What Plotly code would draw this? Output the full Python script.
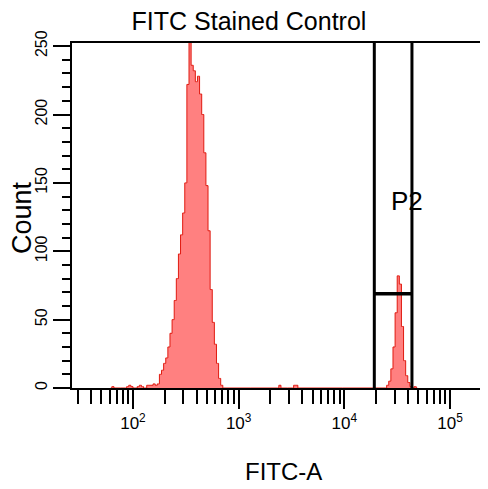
import plotly.graph_objects as go

# ---------------- data (log10 FITC-A bin centres, counts) ----------------
bin_width = 0.02

main_log = [2.24, 2.26, 2.28, 2.30, 2.32, 2.34, 2.36, 2.38, 2.40, 2.42, 2.44,
            2.46, 2.48, 2.50, 2.52, 2.54, 2.56, 2.58, 2.60, 2.62, 2.64, 2.66,
            2.68, 2.70, 2.72, 2.74, 2.76, 2.78, 2.80, 2.82, 2.84]
main_cnt = [3, 10, 13, 18, 22, 30, 40, 50, 64, 80, 98,
            112, 128, 150, 222, 255, 236, 232, 224, 228, 215, 200,
            172, 148, 115, 72, 48, 32, 18, 7, 2]

gate_peak_log = [4.41, 4.43, 4.45, 4.47, 4.49, 4.51, 4.53, 4.55, 4.57, 4.59, 4.61, 4.63, 4.67]
gate_peak_cnt = [2, 5, 14, 30, 55, 82, 76, 45, 20, 9, 4, 1, 1]

sparse_log = [1.81, 1.95, 1.97, 1.99, 2.05, 2.07, 2.09, 2.14, 2.16, 2.18, 2.20, 2.22, 3.39, 3.53, 3.55]
sparse_cnt = [1, 1, 2, 1, 1, 2, 1, 2, 2, 2, 3, 2, 2, 2, 2]

gate_name = "P2"
gate_fitc = [19200, 43600]     # P2 lower / upper bounds
gate_level = 69                # P2 horizontal marker (count)

x_range_log = [1.423, 5.359]
y_range = [0, 252.3]

x_tick_vals = [100, 1000, 10000, 100000]
x_tick_text = ["10<sup>2</sup>", "10<sup>3</sup>", "10<sup>4</sup>", "10<sup>5</sup>"]
y_tick_vals = [0, 50, 100, 150, 200, 250]

# ---------------- build step outline ----------------
pts = sorted(zip(main_log + gate_peak_log + sparse_log, main_cnt + gate_peak_cnt + sparse_cnt))
xs, ys = [], []
for i, (l, c) in enumerate(pts):
    if i == 0 or abs(pts[i - 1][0] - (l - bin_width)) > 1e-6:
        xs.append(l - bin_width); ys.append(0)
    xs.append(l); ys.append(c)
    if i == len(pts) - 1 or abs(pts[i + 1][0] - (l + bin_width)) > 1e-6:
        xs.append(l + bin_width); ys.append(0)
xv = [10 ** v for v in xs]

FONT = "Liberation Sans, Arial, sans-serif"

# page has an 8px body margin; figure is sized so it ends at the window edge
W, H = 480, 481

fig = go.Figure()
fig.add_trace(go.Scatter(x=xv, y=ys, mode="lines", line=dict(color="#e01a10", width=1, shape="hvh"),
                         fill="tozeroy", fillcolor="#ff8080", hoverinfo="skip", showlegend=False))

# gate lines
for g in gate_fitc:
    fig.add_trace(go.Scatter(x=[g, g], y=[y_range[0], y_range[1]], mode="lines",
                             line=dict(color="black", width=3), showlegend=False, hoverinfo="skip"))
fig.add_trace(go.Scatter(x=gate_fitc, y=[gate_level, gate_level], mode="lines",
                         line=dict(color="black", width=3.5), showlegend=False, hoverinfo="skip"))

minor_vals = [m * 10 ** d for d in range(1, 6) for m in range(2, 10)]

fig.update_layout(
    width=W, height=H,
    margin=dict(l=64, r=0, t=35, b=101, autoexpand=False),
    paper_bgcolor="white", plot_bgcolor="white",
    font=dict(family=FONT, color="black"),
    title=dict(text="FITC Stained Control", x=241 / W, xref="container", xanchor="center",
               y=1 - 13 / H, yref="container", yanchor="middle",
               font=dict(size=25, family=FONT, color="black")),
    xaxis=dict(type="log", range=x_range_log, showgrid=False, zeroline=False,
               showline=True, linecolor="black", linewidth=2, mirror=True,
               ticks="outside", ticklen=19, tickwidth=2, tickcolor="black",
               tickvals=x_tick_vals, ticktext=x_tick_text,
               tickfont=dict(size=17, family=FONT), automargin=False,
               minor=dict(tickmode="array", tickvals=minor_vals, ticks="outside",
                          ticklen=14, tickwidth=2, tickcolor="black", showgrid=False)),
    yaxis=dict(range=y_range, showgrid=False, zeroline=False,
               showline=True, linecolor="black", linewidth=2,
               ticks="outside", ticklen=17, tickwidth=2, tickcolor="black",
               tickvals=y_tick_vals, tickangle=-90, automargin=False,
               tickfont=dict(size=16, family=FONT),
               minor=dict(dtick=10, tick0=0, ticks="outside", ticklen=8, tickwidth=2,
                          tickcolor="black", showgrid=False)),
    annotations=[
        dict(text="FITC-A", xref="paper", yref="paper", x=(283 - 72) / 416, y=(388 - 471) / 345,
             showarrow=False, font=dict(size=24, family=FONT), xanchor="center", yanchor="middle"),
        dict(text="Count", xref="paper", yref="paper", x=(22 - 72) / 416, y=(388 - 218) / 345,
             textangle=-90, showarrow=False, font=dict(size=27, family=FONT),
             xanchor="center", yanchor="middle"),
        dict(text=gate_name, xref="x", yref="y", x=4.596, y=137, showarrow=False,
             font=dict(size=26, family=FONT), xanchor="center", yanchor="middle"),
    ],
)

fig.write_html("out.html")
